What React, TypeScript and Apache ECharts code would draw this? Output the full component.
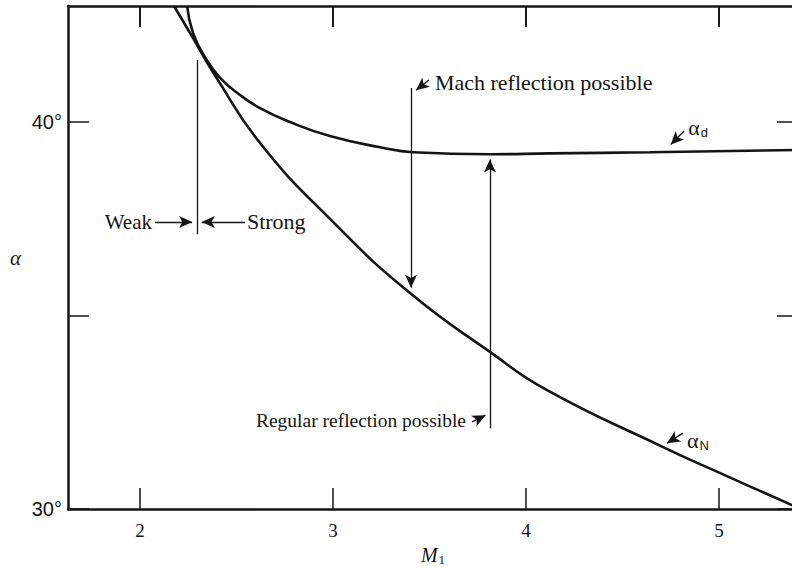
import React, { useEffect, useRef } from "react";
import * as echarts from "echarts";

// ---- axes ----
const xMin = 1.627;
const xMax = 5.409;
const yMin = 30;
const yMax = 43;
const xTickValues = [2, 3, 4, 5];
const yTickValues = [30, 35, 40];
const yLabelValues = [30, 40];

// ---- curves (M1, alpha in degrees) ----
const alphaN_M = [2.176, 2.275, 2.337, 2.378, 2.622, 3.0, 3.399, 3.813, 4.109, 4.71, 4.969, 5.378, 5.409];
const alphaN_deg = [43.0, 42.17, 41.63, 41.29, 39.46, 37.42, 35.58, 34.06, 33.07, 31.6, 31.01, 30.1, 30.03];
const alphaD_M = [2.244, 2.275, 2.337, 2.415, 2.518, 2.622, 2.777, 2.984, 3.244, 3.415, 3.813, 4.124, 4.642, 5.409];
const alphaD_deg = [43.0, 42.3, 41.68, 41.14, 40.7, 40.36, 40.0, 39.64, 39.35, 39.22, 39.17, 39.19, 39.22, 39.28];

// ---- annotations (data coordinates) ----
const weakStrongLine = [[2.295, 41.6], [2.295, 37.1]];
const weakArrow = [[2.078, 37.42], [2.27, 37.42]];
const strongArrow = [[2.544, 37.42], [2.32, 37.42]];
const machLine = [[3.404, 40.88], [3.404, 35.72]];
const machPointer = [[3.497, 41.09], [3.43, 40.82]];
const regularLine = [[3.813, 32.09], [3.813, 39.03]];
const regularPointer = [[3.72, 32.25], [3.79, 32.42]];
const alphaDPointer = [[4.819, 39.77], [4.75, 39.42]];
const alphaNPointer = [[4.813, 31.96], [4.73, 31.7]];

const textLabels = [
  { text: "Weak", at: [2.062, 37.42], align: "right", size: 21 },
  { text: "Strong", at: [2.554, 37.42], align: "left", size: 22 },
  { text: "Mach reflection possible", at: [3.528, 41.03], align: "left", size: 22 },
  { text: "Regular reflection possible", at: [3.689, 32.3], align: "right", size: 19.5 },
];
const greekLabels = [
  { sym: "α", sub: "d", at: [4.84, 39.87] },
  { sym: "α", sub: "N", at: [4.834, 31.78] },
];

const INK = "#141414";
const SERIF = "'Liberation Serif', 'Times New Roman', serif";
const SANS = "'Liberation Sans', Arial, sans-serif";
const TICK_LEN = 21;

function seg(points: number[][], arrow: boolean, curveness = 0, width = 1.3) {
  const ls = { curveness, color: INK, width, type: "solid" };
  return [
    { coord: points[0], symbol: "none", lineStyle: ls },
    { coord: points[1], symbol: arrow ? "arrow" : "none", lineStyle: ls },
  ];
}

export default function App() {
  const ref = useRef<HTMLDivElement>(null);
  useEffect(() => {
    if (!ref.current) return;
    const chart = echarts.init(ref.current, null, { renderer: "svg" });
    const axisLineStyle = { color: INK, width: 2.5 };
    const tickStyle = { color: INK, width: 1.5 };
    const baseX = {
      type: "value",
      min: xMin,
      max: xMax,
      splitLine: { show: false },
      axisLine: { show: true, onZero: false, lineStyle: axisLineStyle },
      axisTick: { show: true, inside: true, length: TICK_LEN, customValues: xTickValues, lineStyle: tickStyle },
    };
    const baseY = {
      type: "value",
      min: yMin,
      max: yMax,
      splitLine: { show: false },
      axisLine: { show: true, onZero: false, lineStyle: axisLineStyle },
      axisTick: { show: true, inside: true, length: TICK_LEN, customValues: yTickValues, lineStyle: tickStyle },
    };
    chart.setOption({
      animation: false,
      backgroundColor: "#ffffff",
      grid: { left: 68, right: 2, top: 6, bottom: 59, containLabel: false, outerBoundsMode: "none" },
      xAxis: [
        {
          ...baseX,
          position: "bottom",
          axisLabel: {
            customValues: xTickValues,
            margin: 12,
            fontFamily: SERIF,
            fontSize: 19,
            color: INK,
          },
          name: "{m|M}{s|1}",
          nameLocation: "middle",
          nameGap: 29,
          nameTextStyle: {
            rich: {
              m: { fontFamily: SERIF, fontStyle: "italic", fontSize: 20, color: INK },
              s: { fontFamily: SERIF, fontSize: 13, color: INK, padding: [10, 0, 0, 1] },
            },
          },
        },
        { ...baseX, position: "top", axisLabel: { show: false } },
      ],
      yAxis: [
        {
          ...baseY,
          position: "left",
          axisLabel: {
            customValues: yLabelValues,
            margin: 6,
            fontFamily: SANS,
            fontSize: 20,
            color: INK,
            formatter: (v: number) => v + "°",
          },
          name: "α",
          nameLocation: "middle",
          nameGap: 47,
          nameRotate: 0,
          nameTextStyle: { fontFamily: SERIF, fontStyle: "italic", fontSize: 21, color: INK, padding: [12, 0, 0, 0] },
        },
        { ...baseY, position: "right", axisLabel: { show: false } },
      ],
      series: [
        {
          name: "alphaN",
          type: "line",
          data: alphaN_M.map((m, i) => [m, alphaN_deg[i]]),
          smooth: 0.5,
          showSymbol: false,
          clip: true,
          lineStyle: { color: INK, width: 2.6 },
          silent: true,
        },
        {
          name: "alphaD",
          type: "line",
          data: alphaD_M.map((m, i) => [m, alphaD_deg[i]]),
          smooth: 0.5,
          showSymbol: false,
          clip: true,
          lineStyle: { color: INK, width: 2.6 },
          silent: true,
          markLine: {
            silent: true,
            symbolSize: [9, 13],
            label: { show: false },
            emphasis: { disabled: true },
            data: [
              seg(weakStrongLine, false),
              seg(weakArrow, true),
              seg(strongArrow, true),
              seg(machLine, true),
              seg(machPointer, true),
              seg(regularLine, true),
              seg(regularPointer, true),
              seg(alphaDPointer, true, 0.3),
              seg(alphaNPointer, true, 0.3),
            ],
          },
        },
      ],
    });

    const toPx = (p: number[]) => chart.convertToPixel({ gridIndex: 0 }, p) as number[];
    const graphics: any[] = [];
    // inward ticks on the top frame
    xTickValues.forEach((v) => {
      const [x, y] = toPx([v, yMax]);
      graphics.push({
        type: "rect",
        silent: true,
        z: 100,
        shape: { x: x - 0.9, y: y, width: 1.8, height: TICK_LEN },
        style: { fill: INK },
      });
    });
    textLabels.forEach((t) => {
      const [x, y] = toPx(t.at);
      graphics.push({
        type: "text",
        x,
        y,
        silent: true,
        style: {
          text: t.text,
          fontFamily: SERIF,
          fontSize: t.size,
          fill: INK,
          align: t.align,
          verticalAlign: "middle",
        },
      });
    });
    greekLabels.forEach((g) => {
      const [x, y] = toPx(g.at);
      graphics.push({
        type: "text",
        x,
        y,
        silent: true,
        style: {
          text: `{a|${g.sym}}{s|${g.sub}}`,
          align: "left",
          verticalAlign: "middle",
          rich: {
            a: { fontFamily: SERIF, fontSize: 22, fill: INK },
            s: { fontFamily: SANS, fontSize: 13, fill: INK, padding: [10, 0, 0, 1] },
          },
        },
      });
    });
    chart.setOption({ graphic: graphics });

    return () => chart.dispose();
  }, []);
  return (
    <div
      ref={ref}
      style={{ position: "fixed", left: 0, top: 0, width: 800, height: 568, background: "#fff" }}
    />
  );
}
